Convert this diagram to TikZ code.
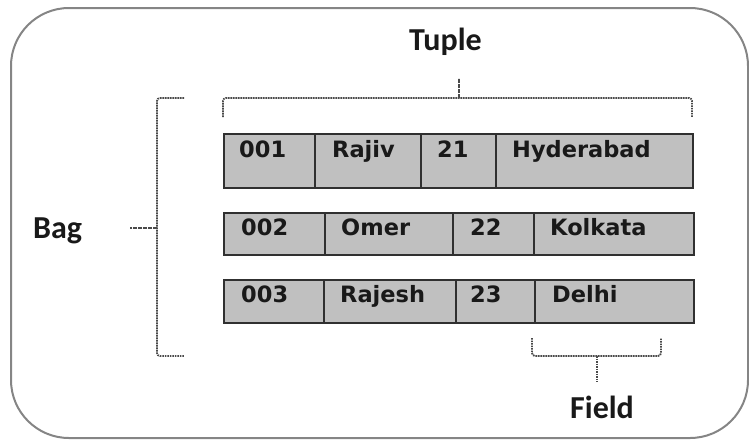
\documentclass[tikz,border=0pt]{standalone}
\usepackage{fontspec}
\newfontfamily\cellfont{DejaVu Sans}
\newfontfamily\labfont{Carlito}
\definecolor{cellgray}{HTML}{C0C0C0}
\definecolor{celledge}{HTML}{303030}
\definecolor{framegray}{HTML}{858585}
\definecolor{bracegray}{HTML}{4A4A4A}
\begin{document}
\begin{tikzpicture}[x=1pt,y=-1pt,
  cellbox/.style={draw=celledge,fill=cellgray,line width=2.4pt,inner sep=0pt,anchor=north west},
  celltext/.style={font=\cellfont\bfseries\fontsize{22.5}{24}\selectfont,text=black!90,inner sep=0pt,anchor=base west},
  labtext/.style={font=\labfont\bfseries\fontsize{32}{34}\selectfont,text=black!90,inner sep=0pt,anchor=base west},
  bracestyle/.style={draw=bracegray,line width=1.8pt,dash pattern=on 1.6pt off 0.9pt,rounded corners=3pt},
  framestyle/.style={draw=framegray,line width=2pt,rounded corners=58pt}]
\useasboundingbox (0,0) rectangle (749,440);
\draw[framestyle] (11,8) rectangle (748,438);

% row 1
\node[cellbox,minimum width=91,minimum height=54] (r1a) at (223,133) {};
\node[cellbox,minimum width=106,minimum height=54] (r1b) at (314,133) {};
\node[cellbox,minimum width=75,minimum height=54] (r1c) at (420,133) {};
\node[cellbox,minimum width=197,minimum height=54] (r1d) at (495,133) {};
\node[celltext] (t1a) at (239,157) {001};
\node[celltext] (t1b) at (332,157) {Rajiv};
\node[celltext] (t1c) at (437,157) {21};
\node[celltext] (t1d) at (512,157) {Hyderabad};

% row 2
\node[cellbox,minimum width=101,minimum height=42] (r2a) at (223,212) {};
\node[cellbox,minimum width=128,minimum height=42] (r2b) at (324,212) {};
\node[cellbox,minimum width=81,minimum height=42] (r2c) at (452,212) {};
\node[cellbox,minimum width=160,minimum height=42] (r2d) at (533,212) {};
\node[celltext] (t2a) at (241,235) {002};
\node[celltext] (t2b) at (341,235) {Omer};
\node[celltext] (t2c) at (470,235) {22};
\node[celltext] (t2d) at (550,235) {Kolkata};

% row 3
\node[cellbox,minimum width=100,minimum height=43] (r3a) at (223,279) {};
\node[cellbox,minimum width=132,minimum height=43] (r3b) at (323,279) {};
\node[cellbox,minimum width=79,minimum height=43] (r3c) at (455,279) {};
\node[cellbox,minimum width=159,minimum height=43] (r3d) at (534,279) {};
\node[celltext] (t3a) at (241,302) {003};
\node[celltext] (t3b) at (340,302) {Rajesh};
\node[celltext] (t3c) at (470,302) {23};
\node[celltext] (t3d) at (552,302) {Delhi};

% labels
\node[labtext] (tuple) at (409,50) {Tuple};
\node[labtext] (bag) at (33,238) {Bag};
\node[labtext] (field) at (570,418) {Field};

% tuple brace
\coordinate (tuL) at (223,117);
\coordinate (tuR) at (692,117);
\coordinate (tuM) at (459,98);
\coordinate (tuT) at (459,78);
\draw[bracestyle] (tuL) -- (223,98) -- (tuM) -- (692,98) -- (tuR);
\draw[bracestyle,sharp corners] (tuM) -- (tuT);

% bag brace
\coordinate (bgT) at (184,98);
\coordinate (bgB) at (184,356);
\coordinate (bgM) at (157,228);
\coordinate (bgP) at (130,228);
\draw[bracestyle] (bgT) -- (157,98) -- (bgM) -- (157,356) -- (bgB);
\draw[bracestyle,sharp corners] (bgM) -- (bgP);

% field brace
\coordinate (fdL) at (532,338);
\coordinate (fdR) at (661,338);
\coordinate (fdM) at (597,356);
\coordinate (fdB) at (597,382);
\draw[bracestyle] (fdL) -- (532,356) -- (fdM) -- (661,356) -- (fdR);
\draw[bracestyle,sharp corners] (fdM) -- (fdB);
\end{tikzpicture}
\end{document}
